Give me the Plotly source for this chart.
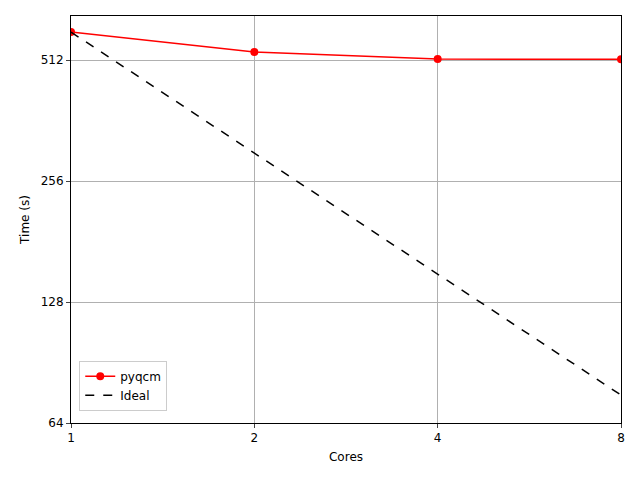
import plotly.graph_objects as go
import numpy as np

cores = [1, 2, 4, 8]
pyqcm_times = [601, 536, 515, 514]
ideal_times = [601, 300.5, 150.25, 75.1]
x_ticks = [1, 2, 4, 8]
y_ticks = [64, 128, 256, 512]

fig = go.Figure()
fig.add_trace(go.Scatter(x=cores, y=pyqcm_times, mode="lines+markers", name="pyqcm",
                         line=dict(color="red", width=1.5), marker=dict(color="red", size=8)))
fig.add_trace(go.Scatter(x=cores, y=ideal_times, mode="lines", name="Ideal",
                         line=dict(color="black", width=1.5, dash="dash")))

ax = dict(showline=True, linecolor="black", mirror=True, ticks="outside", ticklen=4,
          showgrid=True, gridcolor="#b0b0b0", gridwidth=1, zeroline=False,
          tickfont=dict(size=12, color="black"))
fig.update_xaxes(type="log", range=[0, np.log10(8)], tickvals=x_ticks, ticktext=[str(v) for v in x_ticks],
                 title=dict(text="Cores", font=dict(size=12, color="black"), standoff=8), **ax)
fig.update_yaxes(type="log", range=[np.log10(64), np.log10(659)], tickvals=y_ticks, ticktext=[str(v) for v in y_ticks],
                 title=dict(text="Time (s)", font=dict(size=12, color="black"), standoff=8), **ax)
fig.update_layout(width=640, height=480, margin=dict(l=63, r=27, t=8, b=65),
                  plot_bgcolor="white", paper_bgcolor="white",
                  font=dict(family="DejaVu Sans", size=12, color="black"),
                  legend=dict(x=0.015, y=0.03, xanchor="left", yanchor="bottom",
                              bordercolor="#cccccc", borderwidth=1, bgcolor="rgba(255,255,255,0.8)",
                              font=dict(size=12)))
fig.write_html("out.html")
